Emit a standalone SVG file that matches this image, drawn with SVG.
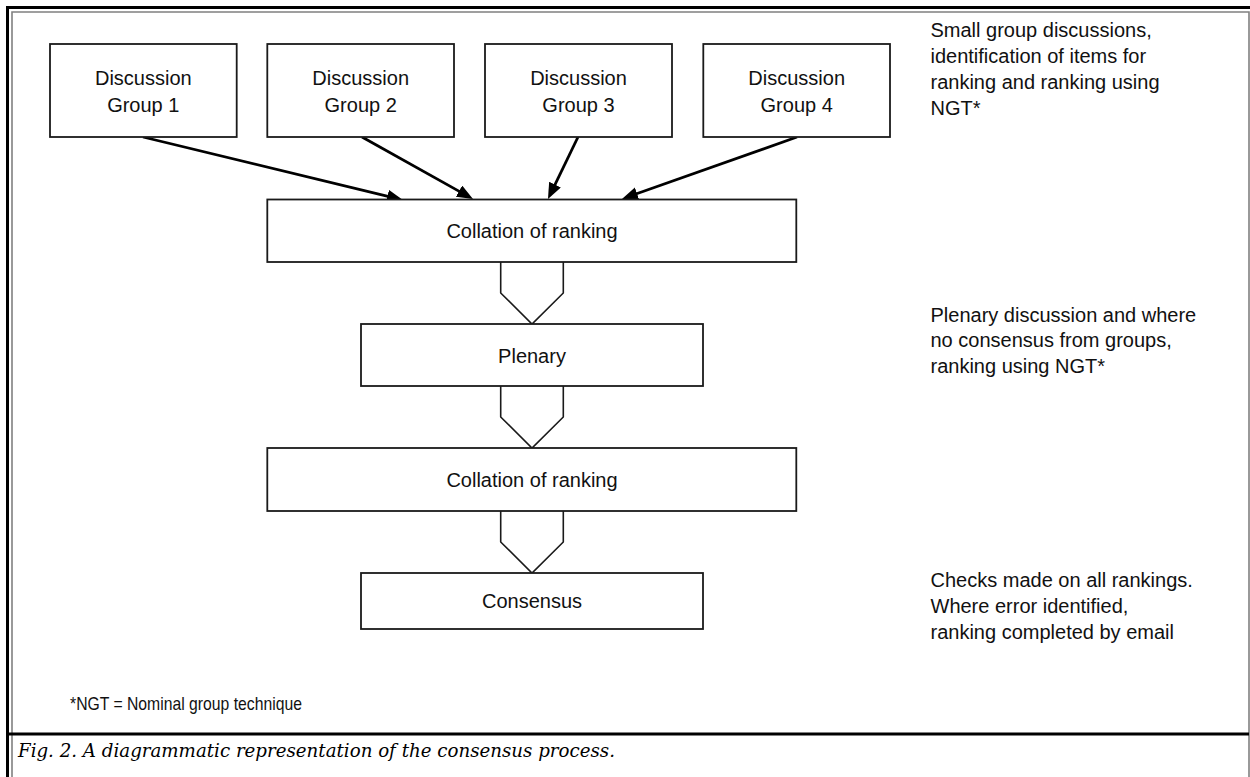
<svg xmlns="http://www.w3.org/2000/svg" width="1250" height="777" viewBox="0 0 1250 777">
<style>
.box{fill:#fff;stroke:#1a1a1a;stroke-width:1.8}
.t{font-family:"Liberation Sans",Arial,sans-serif;font-size:20px;fill:#111}
.c{text-anchor:middle}
.arr{stroke:#000;stroke-width:2.8;fill:none;marker-end:url(#ah)}
.chev{fill:#fff;stroke:#1a1a1a;stroke-width:1.6;stroke-linejoin:miter}
.fn{font-family:"Liberation Sans",Arial,sans-serif;font-size:19px;fill:#111}
.cap{font-family:"DejaVu Serif","Liberation Serif",serif;font-style:italic;font-size:18px;fill:#000}
</style>
<defs>
<marker id="ah" markerUnits="userSpaceOnUse" markerWidth="18" markerHeight="14" refX="8" refY="6.5" orient="auto">
<path d="M0,0 L16,6.5 L0,13 Z" fill="#000"/>
</marker>
</defs>
<rect width="1250" height="777" fill="#fff"/>
<g id="frame">
<path d="M7.5,777 V7.5 H1250" fill="none" stroke="#000" stroke-width="3"/>
<path d="M12,777 V12 H1249 V777" fill="none" stroke="#808080" stroke-width="1.6"/>
<line x1="9" y1="734" x2="1249" y2="734" stroke="#000" stroke-width="3"/>
</g>
<g id="connectors">
<line class="arr" x1="143" y1="137" x2="395.2" y2="198.1"/>
<line class="arr" x1="362" y1="137" x2="466" y2="195.1"/>
<line class="arr" x1="578" y1="137" x2="551.5" y2="191.8"/>
<line class="arr" x1="797" y1="137" x2="629.5" y2="196.3"/>
<path class="chev" d="M500.7,262 V293 L532,324 L563.3,293 V262"/>
<path class="chev" d="M500.7,386 V417 L532,448 L563.3,417 V386"/>
<path class="chev" d="M500.7,511 V542 L532,573 L563.3,542 V511"/>
</g>
<g id="dg1">
<rect class="box" x="50" y="44" width="186.7" height="93"/>
<text class="t c" x="143.3" y="85">Discussion</text>
<text class="t c" x="143.3" y="111.5">Group 1</text>
</g>
<g id="dg2">
<rect class="box" x="267.3" y="44" width="186.7" height="93"/>
<text class="t c" x="360.7" y="85">Discussion</text>
<text class="t c" x="360.7" y="111.5">Group 2</text>
</g>
<g id="dg3">
<rect class="box" x="485" y="44" width="187" height="93"/>
<text class="t c" x="578.5" y="85">Discussion</text>
<text class="t c" x="578.5" y="111.5">Group 3</text>
</g>
<g id="dg4">
<rect class="box" x="703.3" y="44" width="186.7" height="93"/>
<text class="t c" x="796.7" y="85">Discussion</text>
<text class="t c" x="796.7" y="111.5">Group 4</text>
</g>
<g id="collation1">
<rect class="box" x="267.3" y="199.5" width="529" height="62.5"/>
<text class="t c" x="532" y="238">Collation of ranking</text>
</g>
<g id="plenary">
<rect class="box" x="361" y="324" width="342" height="62"/>
<text class="t c" x="532" y="362.5">Plenary</text>
</g>
<g id="collation2">
<rect class="box" x="267.3" y="448" width="529" height="63"/>
<text class="t c" x="532" y="486.5">Collation of ranking</text>
</g>
<g id="consensus">
<rect class="box" x="361" y="573" width="342" height="56"/>
<text class="t c" x="532" y="608">Consensus</text>
</g>
<g id="notes">
<text class="t" x="930.5" y="37.3">Small group discussions,</text>
<text class="t" x="930.5" y="63.3">identification of items for</text>
<text class="t" x="930.5" y="89.3">ranking and ranking using</text>
<text class="t" x="930.5" y="115.3">NGT*</text>
<text class="t" x="930.5" y="321.7">Plenary discussion and where</text>
<text class="t" x="930.5" y="347.3">no consensus from groups,</text>
<text class="t" x="930.5" y="373.3">ranking using NGT*</text>
<text class="t" x="930.5" y="587.3">Checks made on all rankings.</text>
<text class="t" x="930.5" y="613.3">Where error identified,</text>
<text class="t" x="930.5" y="639.3">ranking completed by email</text>
<text class="fn" x="70" y="710" textLength="232" lengthAdjust="spacingAndGlyphs">*NGT = Nominal group technique</text>
<text class="cap" x="18" y="757" textLength="597" lengthAdjust="spacingAndGlyphs">Fig. 2. A diagrammatic representation of the consensus process.</text>
</g>
</svg>
